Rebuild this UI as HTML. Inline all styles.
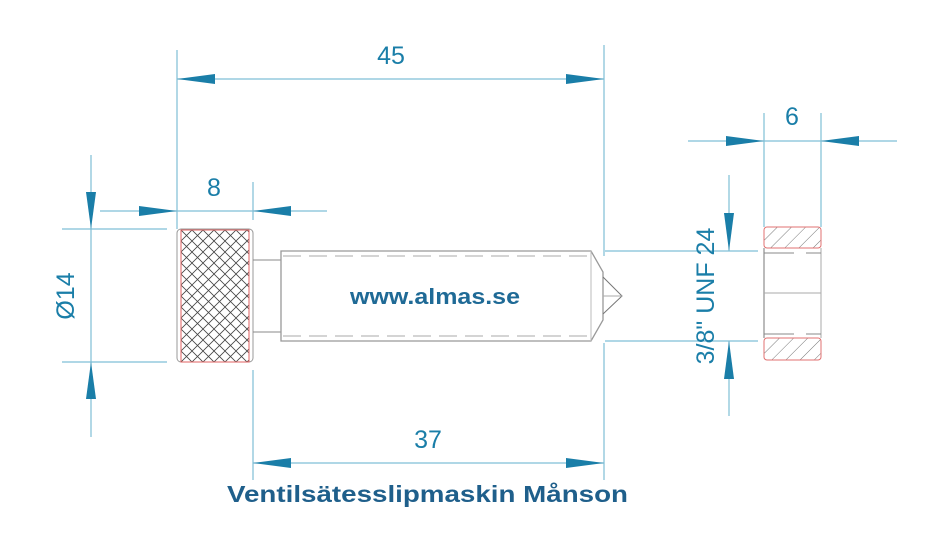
<!DOCTYPE html>
<html><head><meta charset="utf-8"><style>html,body{margin:0;padding:0;background:#fff}svg{display:block}</style></head><body>
<svg width="940" height="551" viewBox="0 0 940 551" xmlns="http://www.w3.org/2000/svg">
<defs>
<pattern id="knurl" width="11" height="11" patternUnits="userSpaceOnUse" x="181" y="230">
<path d="M0,0 L11,11 M11,0 L0,11" stroke="#444" stroke-width="0.8" fill="none"/>
</pattern>
<pattern id="hatch" width="10" height="10" patternUnits="userSpaceOnUse" patternTransform="rotate(45)">
<line x1="0" y1="0" x2="0" y2="10" stroke="#555" stroke-width="0.8"/>
</pattern>
</defs>
<g stroke="#7fbfd6" stroke-width="1.2" fill="none">
<line x1="177" y1="50" x2="177" y2="229"/>
<line x1="604" y1="45" x2="604" y2="256"/>
<line x1="604" y1="343" x2="604" y2="480"/>
<line x1="177" y1="79" x2="604" y2="79"/>
<line x1="100" y1="211" x2="327" y2="211"/>
<line x1="253" y1="182" x2="253" y2="220"/>
<line x1="253" y1="370" x2="253" y2="480"/>
<line x1="91" y1="155" x2="91" y2="437"/>
<line x1="62" y1="229" x2="167" y2="229"/>
<line x1="62" y1="362" x2="167" y2="362"/>
<line x1="253" y1="463" x2="604" y2="463"/>
<line x1="605" y1="251" x2="758" y2="251"/>
<line x1="605" y1="341" x2="758" y2="341"/>
<line x1="729" y1="175" x2="729" y2="251"/>
<line x1="729" y1="341" x2="729" y2="416"/>
<line x1="688" y1="141" x2="897" y2="141"/>
<line x1="764" y1="113" x2="764" y2="227"/>
<line x1="821" y1="113" x2="821" y2="227"/>
</g>
<g fill="#1a7ea8">
<polygon points="177,79 215,74 215,84"/>
<polygon points="604,79 566,74 566,84"/>
<polygon points="177,211 139,206 139,216"/>
<polygon points="253,211 291,206 291,216"/>
<polygon points="91,229 86,192 96,192"/>
<polygon points="91,362 86,399 96,399"/>
<polygon points="253,463 291,458 291,468"/>
<polygon points="604,463 566,458 566,468"/>
<polygon points="764,141 726,136 726,146"/>
<polygon points="821,141 859,136 859,146"/>
<polygon points="729,251 724,213 734,213"/>
<polygon points="729,341 724,379 734,379"/>
</g>
<rect x="177" y="229" width="76" height="133" rx="4" fill="none" stroke="#999" stroke-width="1"/>
<rect x="181" y="230" width="68" height="132" fill="url(#knurl)" stroke="#e06060" stroke-width="1"/>
<line x1="253" y1="260" x2="281" y2="260" stroke="#888"/>
<line x1="253" y1="332" x2="281" y2="332" stroke="#888"/>
<path d="M281,251 L591,251 L603,272 L603,320 L591,341 L281,341 Z" fill="none" stroke="#999" stroke-width="1.3"/>
<line x1="591" y1="251" x2="591" y2="341" stroke="#bbb"/>
<line x1="283" y1="256" x2="590" y2="256" stroke="#aaa" stroke-dasharray="18,8"/>
<line x1="283" y1="336" x2="590" y2="336" stroke="#aaa" stroke-dasharray="18,8"/>
<path d="M603,277 L622,296 L603,314" fill="none" stroke="#777"/>
<line x1="603" y1="296" x2="622" y2="296" stroke="#aaa"/>
<rect x="764" y="227" width="57" height="21" rx="3" fill="url(#hatch)" stroke="#e07070"/>
<rect x="764" y="338" width="57" height="22" rx="3" fill="url(#hatch)" stroke="#e07070"/>
<line x1="764" y1="248" x2="764" y2="338" stroke="#777"/>
<line x1="821" y1="248" x2="821" y2="338" stroke="#aaa"/>
<line x1="764" y1="293" x2="821" y2="293" stroke="#aaa"/>
<line x1="764" y1="253" x2="821" y2="253" stroke="#888" stroke-dasharray="30,12"/>
<line x1="764" y1="334" x2="821" y2="334" stroke="#888" stroke-dasharray="30,12"/>
<g font-family="Liberation Sans, sans-serif" fill="#1a7ea8" font-size="25" text-anchor="middle">
<text x="391" y="64">45</text>
<text x="214" y="196">8</text>
<text x="428" y="448">37</text>
<text x="792" y="125">6</text>
<text transform="translate(74,296) rotate(-90)">Ø14</text>
<text transform="translate(714,296) rotate(-90)">3/8" UNF 24</text>
</g>
<text x="350" y="304" textLength="170" lengthAdjust="spacingAndGlyphs" font-family="Liberation Sans, sans-serif" font-weight="bold" font-size="22" fill="#1f6a96">www.almas.se</text>
<text x="227" y="502" textLength="401" lengthAdjust="spacingAndGlyphs" font-family="Liberation Sans, sans-serif" font-weight="bold" font-size="23" fill="#1f5f8b">Ventilsätesslipmaskin Månson</text>
</svg>
</body></html>
